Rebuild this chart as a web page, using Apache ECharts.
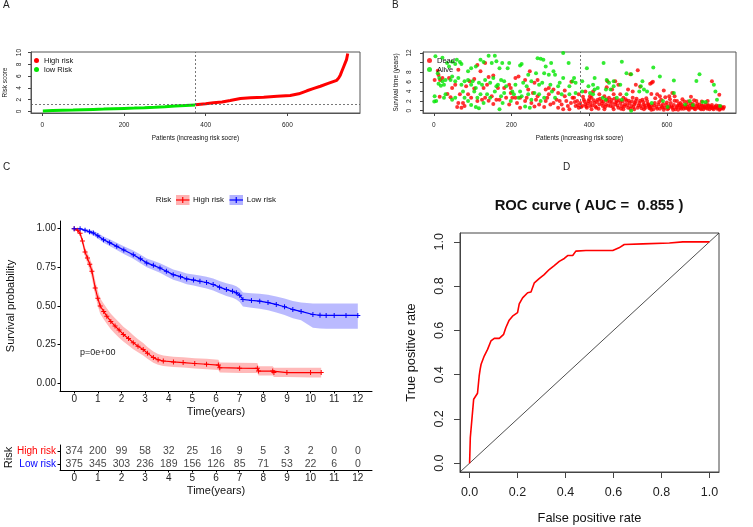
<!DOCTYPE html>
<html><head><meta charset="utf-8">
<script src="https://cdn.jsdelivr.net/npm/echarts@6/dist/echarts.min.js"></script>
<style>html,body{margin:0;padding:0;background:#fff}#c{width:753px;height:527px}</style>
</head><body><div id="c"></div>
<script>
// ---------- Panel A : risk score curve ----------
const lowRiskIdx   = [1, 25, 50, 75, 100, 125, 150, 175, 200, 225, 250, 275, 300, 325, 350, 374];
const lowRiskScore = [0.08, 0.14, 0.19, 0.23, 0.28, 0.33, 0.38, 0.44, 0.5, 0.55, 0.61, 0.68, 0.78, 0.9, 1.0, 1.1];
const highRiskIdx   = [375, 400, 419, 440, 460, 485, 510, 542, 575, 607, 628, 648, 665, 681, 700, 721, 726, 730, 734, 738, 742, 745, 748];
const highRiskScore = [1.12, 1.3, 1.46, 1.6, 1.86, 2.2, 2.3, 2.42, 2.56, 2.7, 2.98, 3.5, 3.9, 4.27, 4.75, 5.28, 5.7, 6.2, 6.9, 7.6, 8.3, 8.8, 9.85];
const riskCutoffScore = 1.13;
const riskCutoffIndex = 374;

// ---------- Panel B : survival status ----------
const alivePoints = [
 [22,11.0],[34,9.9],[39,9.2],[47,10.2],[55,9.7],[59,10.6],[67,10.1],[71,9.7],[141,11.4],[157,11.4],[120,10.6],[128,10.1],[96,8.8],[88,8.2],[108,9.2],[149,9.9],[161,10.3],
 [10,7.8],[14,6.8],[22,6.1],[26,5.4],[30,6.4],[43,6.4],[47,7.1],[55,6.1],[63,6.8],[71,5.4],[79,6.1],[88,6.4],[96,5.4],[100,6.1],[108,4.7],[116,5.8],[124,5.4],[132,6.4],[145,5.8],[153,6.8],[161,5.1],
 [2,3.0],[6,2.0],[26,2.7],[30,3.4],[47,2.3],[55,2.7],[75,4.0],[79,2.7],[88,2.0],[104,4.0],[112,2.7],[120,3.4],[128,1.6],[137,3.4],[145,2.7],[157,4.0],[96,1.2],[108,0.8],[116,0.5],[4,11.3],[1,1.9],[12,5.6],[18,5.2],
 [176,9.9],[194,9.9],[169,8.8],[190,8.8],[222,9.4],[226,9.7],[267,10.9],[275,10.8],[282,10.6],[288,9.2],[302,9.9],[333,12.0],[347,9.9],[284,7.8],[296,7.5],[308,8.2],[312,7.5],[263,7.8],[243,7.5],[324,5.8],[333,6.8],[357,6.1],
 [173,6.4],[181,6.1],[165,5.4],[186,5.1],[210,5.4],[230,5.8],[239,5.1],[251,6.1],[271,5.4],[279,5.8],[300,5.4],[181,3.7],[173,3.0],[202,4.0],[206,3.4],[222,4.0],[226,3.0],[218,2.7],[243,3.4],[251,2.3],[259,3.7],[271,3.4],[284,2.7],[304,4.0],[320,5.1],[329,3.4],[349,5.1],[349,3.4],[169,0.3],[177,1.6],[198,2.0],[235,0.9],[247,0.6],[275,2.0],[312,2.7],
 [394,8.8],[437,9.9],[484,10.2],[361,6.8],[365,5.8],[382,6.1],[414,6.8],[410,5.4],[398,5.1],[422,4.7],[445,6.4],[451,5.8],[463,6.1],[443,4.4],[455,4.4],[463,5.1],[480,5.4],[496,7.8],[508,7.6],[533,5.1],[537,6.1],[529,4.0],[541,4.4],[365,3.7],[382,4.0],[402,3.7],[414,4.4],[435,2.7],[443,2.3],[471,2.7],[484,2.3],[508,0.0],[549,4.0],[410,3.4],[496,3.4],
 [565,9.0],[582,7.1],[618,6.3],[684,7.6],[676,6.2],[721,5.4],[725,4.0],[729,2.3],[618,3.7],[659,2.0],[692,1.8],[700,1.8],[590,2.0],[602,0.8],[561,1.6],[647,1.3],[667,1.2],[737,1.0]
];
const deadPoints = [
 [2,6.4],[16,6.4],[39,6.8],[55,5.4],[83,5.1],[92,6.1],[104,6.6],[112,9.5],[132,9.9],[120,8.2],[141,7.0],[153,7.3],[63,8.5],[43,2.8],[47,4.7],[63,1.6],[67,3.4],[96,2.7],[112,2.0],[124,2.3],[132,2.7],[141,2.1],[149,3.0],[161,2.3],[153,1.4],[79,1.0],[71,0.6],[128,4.7],[137,5.4],[104,4.6],[75,1.6],[10,8.3],[12,7.4],[15,2.9],[60,0.8],[22,6.8],[35,3.5],[88,3.4],
 [210,6.8],[218,7.1],[235,6.4],[247,8.2],[259,5.8],[267,6.4],[194,5.4],[198,4.7],[165,4.7],[181,4.7],[296,4.7],[308,4.4],[320,3.7],[337,4.2],[354,6.0],[198,3.7],[186,2.7],[202,2.7],[214,1.6],[222,0.6],[235,2.0],[239,2.7],[255,3.7],[263,2.3],[267,3.0],[288,2.0],[292,2.7],[300,1.3],[308,1.6],[316,2.3],[324,2.0],[329,1.3],[337,3.0],[341,2.0],[345,1.0],[353,1.6],[357,2.7],[259,0.9],[271,1.3],[284,0.8],[320,0.6],[333,0.3],[349,0.3],[210,2.7],[222,2.7],[243,4.4],[288,4.4],[296,3.4],[169,2.3],[194,1.3],[251,1.6],
 [361,2.7],[369,2.0],[377,1.6],[386,2.3],[390,1.3],[398,2.0],[402,1.0],[406,2.7],[410,4.0],[414,1.6],[418,0.6],[422,2.3],[426,1.3],[431,2.0],[435,1.0],[439,3.0],[443,1.3],[447,2.0],[451,2.7],[455,1.0],[459,1.6],[463,3.4],[467,1.3],[471,2.0],[475,0.6],[480,1.6],[484,1.0],[488,2.7],[492,1.3],[496,2.0],[500,0.6],[504,1.6],[508,1.0],[512,2.7],[516,1.3],[520,2.0],[525,0.6],[529,1.6],[533,1.0],[537,2.3],[541,1.3],[545,0.6],[549,2.0],[553,1.0],
 [365,1.0],[373,0.6],[382,1.0],[394,0.6],[406,0.3],[439,0.3],[463,0.3],[488,0.3],[516,0.3],[541,0.3],[447,6.1],[459,4.4],[467,6.1],[475,5.4],[480,3.4],[500,4.4],[520,5.4],[525,8.4],[506,7.6],[512,4.0],[373,3.4],[390,4.0],[426,3.4],[402,3.0],[445,4.9],[531,5.0],[564,6.0],
 [363,1.8],[371,1.2],[379,0.8],[384,2.9],[388,1.9],[392,0.9],[396,1.5],[400,2.4],[404,1.7],[408,1.1],[412,2.2],[416,0.9],[420,1.8],[424,0.4],[428,2.5],[433,1.5],[437,1.9],[441,0.8],[445,2.4],[449,1.1],[453,1.8],[457,2.3],[461,0.8],[465,2.5],[469,1.7],[473,1.1],[477,2.2],[482,0.4],[486,1.9],[490,0.9],[494,2.4],[498,1.2],[502,2.1],[506,0.4],[510,1.9],[514,0.8],[518,1.6],[522,2.5],[527,1.1],[531,2.1],[535,0.5],[539,1.8],[543,1.0],[547,2.6],[551,1.4],[555,0.5],
 [561,5.8],[557,5.6],[716,6.1],[592,4.2],[614,3.7],[582,3.0],[606,3.0],[676,2.0],[635,1.6],[735,3.3],
 [553,1.3],[557,0.6],[561,1.0],[565,0.3],[569,1.6],[573,0.8],[578,1.3],[582,0.4],[586,1.0],[590,1.4],[594,0.6],[598,1.2],[602,0.3],[606,1.0],[610,1.6],[614,0.6],[618,1.2],[622,0.3],[627,1.0],[631,1.4],[635,0.6],[639,1.2],[643,0.4],[647,0.8],[651,1.3],[655,0.4],[659,1.0],[663,0.6],[667,1.4],[671,0.4],[676,1.0],[680,0.6],[684,1.3],[688,0.3],[692,1.0],[696,0.6],[700,1.3],[704,0.4],[708,1.0],[712,0.6],[716,1.2],[720,0.3],[725,0.8],[729,0.4],[733,1.0],[737,0.3],[741,0.6],[745,0.4],[747,0.8],
 [555,0.9],[560,0.2],[567,1.1],[575,0.4],[580,1.8],[588,0.7],[592,0.2],[600,1.7],[604,0.5],[612,0.9],[616,0.2],[620,2.1],[625,0.7],[629,0.2],[633,1.1],[637,0.4],[641,0.9],[645,1.9],[649,0.5],[653,0.8],[657,0.2],[661,1.5],[665,0.7],[669,0.9],[673,0.3],[678,1.4],[682,0.8],[686,0.5],[690,1.1],[694,0.3],[698,0.8],[702,0.6],[706,1.2],[710,0.3],[714,0.9],[718,0.5],[722,0.7],[727,1.1],[731,0.6],[735,0.2],[739,0.9],[743,0.6],
 [570,2.6],[585,2.3],[596,2.8],[608,2.4],[626,2.0],[640,2.4],[654,1.9],[670,2.2],[690,1.9],[705,2.0],[575,3.4],[560,3.5],[620,3.0],[662,2.9]
];
const survCutoffIndex = 376;

// ---------- Panel C : Kaplan-Meier ----------
const highT  = [0, 0.15, 0.25, 0.35, 0.46, 0.56, 0.66, 0.75, 0.89, 1.0, 1.1, 1.25, 1.38, 1.55, 1.73, 1.9, 2.08, 2.3, 2.5, 2.7, 2.92, 3.1, 3.35, 3.55, 3.77, 4.2, 4.61, 5.1, 5.6, 6.1, 6.16, 7.0, 7.75, 7.8, 8.4, 8.45, 9.0, 10.0, 10.45];
const highS  = [1.0, 0.99, 0.97, 0.92, 0.85, 0.81, 0.77, 0.725, 0.617, 0.55, 0.5, 0.465, 0.434, 0.4, 0.37, 0.345, 0.316, 0.29, 0.263, 0.24, 0.219, 0.195, 0.166, 0.152, 0.144, 0.138, 0.134, 0.128, 0.123, 0.118, 0.101, 0.098, 0.097, 0.079, 0.079, 0.069, 0.069, 0.069, 0.069];
const highLo = [1.0, 0.98, 0.955, 0.895, 0.82, 0.775, 0.73, 0.68, 0.57, 0.5, 0.45, 0.415, 0.385, 0.35, 0.32, 0.295, 0.27, 0.245, 0.22, 0.2, 0.18, 0.158, 0.132, 0.12, 0.112, 0.106, 0.102, 0.096, 0.09, 0.086, 0.07, 0.067, 0.066, 0.05, 0.05, 0.04, 0.04, 0.038, 0.037];
const highHi = [1.0, 1.0, 0.985, 0.945, 0.88, 0.845, 0.81, 0.77, 0.665, 0.6, 0.55, 0.515, 0.485, 0.45, 0.42, 0.395, 0.365, 0.34, 0.31, 0.285, 0.26, 0.235, 0.205, 0.19, 0.18, 0.172, 0.168, 0.162, 0.158, 0.152, 0.135, 0.132, 0.131, 0.11, 0.11, 0.1, 0.1, 0.1, 0.1];
const lowT  = [0, 0.25, 0.46, 0.65, 0.81, 1.0, 1.24, 1.5, 1.8, 2.1, 2.5, 2.8, 3.07, 3.35, 3.63, 3.9, 4.19, 4.5, 4.76, 5.05, 5.32, 5.6, 5.88, 6.15, 6.44, 6.7, 6.86, 7.0, 7.14, 7.5, 7.85, 8.2, 8.55, 8.9, 9.25, 9.6, 10.1, 10.4, 10.66, 11.0, 11.5, 12.0];
const lowS  = [1.0, 1.0, 0.99, 0.98, 0.972, 0.955, 0.929, 0.91, 0.886, 0.862, 0.832, 0.805, 0.779, 0.763, 0.746, 0.725, 0.703, 0.69, 0.675, 0.668, 0.66, 0.652, 0.639, 0.622, 0.606, 0.595, 0.585, 0.57, 0.542, 0.536, 0.531, 0.522, 0.51, 0.495, 0.477, 0.465, 0.445, 0.44, 0.439, 0.439, 0.439, 0.439];
const lowLo = [1.0, 0.995, 0.98, 0.967, 0.957, 0.937, 0.909, 0.888, 0.862, 0.837, 0.805, 0.777, 0.75, 0.733, 0.715, 0.693, 0.67, 0.656, 0.64, 0.632, 0.623, 0.614, 0.6, 0.582, 0.565, 0.553, 0.542, 0.526, 0.496, 0.489, 0.483, 0.472, 0.458, 0.441, 0.421, 0.407, 0.36, 0.355, 0.353, 0.353, 0.353, 0.353];
const lowHi = [1.0, 1.0, 1.0, 0.993, 0.987, 0.973, 0.949, 0.932, 0.91, 0.887, 0.859, 0.833, 0.808, 0.793, 0.777, 0.757, 0.736, 0.724, 0.71, 0.704, 0.697, 0.69, 0.678, 0.662, 0.647, 0.637, 0.628, 0.614, 0.588, 0.583, 0.579, 0.572, 0.562, 0.549, 0.533, 0.523, 0.516, 0.516, 0.516, 0.516, 0.516, 0.516];
const kmTimeTicks = [0,1,2,3,4,5,6,7,8,9,10,11,12];
const kmSurvTicks = [0, 0.25, 0.5, 0.75, 1.0];

// ---------- risk table ----------
const tableTimes = [0,1,2,3,4,5,6,7,8,9,10,11,12];
const highAtRisk = [374,200,99,58,32,25,16,9,5,3,2,0,0];
const lowAtRisk  = [375,345,303,236,189,156,126,85,71,53,22,6,0];
const tableGroups = ['Low risk','High risk'];

// ---------- Panel D : ROC ----------
const rocFPR = [0, 0.003, 0.017, 0.019, 0.033, 0.04, 0.044, 0.048, 0.061, 0.075, 0.089, 0.103, 0.124, 0.142, 0.151, 0.165, 0.179, 0.2, 0.207, 0.221, 0.242, 0.256, 0.27, 0.29, 0.311, 0.332, 0.353, 0.374, 0.395, 0.409, 0.43, 0.443, 0.485, 0.597, 0.623, 0.645, 0.722, 0.833, 0.889, 1.0];
const rocTPR = [0, 0.116, 0.289, 0.29, 0.316, 0.394, 0.424, 0.447, 0.484, 0.514, 0.552, 0.564, 0.564, 0.582, 0.612, 0.646, 0.664, 0.68, 0.72, 0.747, 0.77, 0.773, 0.815, 0.834, 0.852, 0.875, 0.893, 0.912, 0.925, 0.938, 0.938, 0.958, 0.961, 0.961, 0.973, 0.988, 0.991, 0.995, 1.0, 1.0];
const diagX = [-0.04, 1.04];
const rocTicks = [0, 0.2, 0.4, 0.6, 0.8, 1.0];

// ---------- drawing ----------
const F = '"Liberation Sans", Arial, Helvetica, sans-serif';
const RED = '#FF0000', GREEN = '#00E600', BLUE = '#0000FF';
const zip = (a, b) => a.map((v, i) => [v, b[i]]);
const PLUS = 'path://M4,0H6V4H10V6H6V10H4V6H0V4H4Z';

function valAxis(o) {
  const ax = {
    type: 'value', gridIndex: o.g, min: o.min, max: o.max,
    axisLine: { show: true, onZero: false, lineStyle: { color: o.lineColor || '#000', width: 1 } },
    axisTick: { show: true, inside: false, length: o.tickLen || 3, customValues: o.ticks, lineStyle: { color: o.tickColor || '#444', width: 1 } },
    axisLabel: { show: true, customValues: o.labels || o.ticks, margin: o.margin, fontSize: o.fs, color: '#222', fontFamily: F, rotate: o.rotate || 0 },
    splitLine: { show: false },
    name: o.name, nameLocation: 'middle', nameGap: o.nameGap, nameMoveOverlap: false,
    nameTextStyle: { fontSize: o.nfs, color: '#111', fontFamily: F }
  };
  if (o.fmt) ax.axisLabel.formatter = o.fmt;
  if (o.nameRotate) ax.nameRotate = o.nameRotate;
  return ax;
}

function band(xi, T, lo, hi, color) {
  return {
    type: 'custom', xAxisIndex: xi, yAxisIndex: xi, silent: true, z: 1,
    data: [[0, 0]],
    renderItem: function (params, api) {
      const pts = [];
      for (let i = 0; i < T.length; i++) pts.push(api.coord([T[i], hi[i]]));
      for (let i = T.length - 1; i >= 0; i--) pts.push(api.coord([T[i], lo[i]]));
      return { type: 'polygon', shape: { points: pts }, style: { fill: color } };
    }
  };
}

const dash = { type: [2, 2], color: '#555', width: 0.8 };

const option = {
  animation: false,
  backgroundColor: '#fff',
  textStyle: { fontFamily: F },
  title: [
    { text: 'A', left: 3, top: 0, padding: 0, textStyle: { fontSize: 10, fontWeight: 'normal', color: '#222', fontFamily: F } },
    { text: 'B', left: 392, top: 0, padding: 0, textStyle: { fontSize: 10, fontWeight: 'normal', color: '#222', fontFamily: F } },
    { text: 'C', left: 3, top: 162, padding: 0, textStyle: { fontSize: 10, fontWeight: 'normal', color: '#222', fontFamily: F } },
    { text: 'D', left: 563, top: 162, padding: 0, textStyle: { fontSize: 10, fontWeight: 'normal', color: '#222', fontFamily: F } },
    { text: 'ROC curve ( AUC =  0.855 )', left: 589, top: 198, padding: 0, textAlign: 'center', textStyle: { fontSize: 14.8, fontWeight: 'bold', color: '#111', fontFamily: F } }
  ],
  legend: [
    { data: ['High risk', 'low Risk'], left: 34, top: 56, orient: 'vertical', icon: 'circle', itemWidth: 5, itemHeight: 5, itemGap: 0, padding: 0, selectedMode: false, textStyle: { fontSize: 7.5, lineHeight: 9, color: '#111', fontFamily: F } },
    { data: ['Dead', 'Alive'], left: 427, top: 56, orient: 'vertical', icon: 'circle', itemWidth: 5, itemHeight: 5, itemGap: 0, padding: 0, selectedMode: false, textStyle: { fontSize: 7.5, lineHeight: 9, color: '#111', fontFamily: F } }
  ],
  grid: [
    { left: 31, top: 52, width: 329, height: 61, show: true, borderColor: '#555', borderWidth: 1, backgroundColor: 'transparent', outerBoundsMode: 'none' },
    { left: 423, top: 52, width: 313, height: 61, show: true, borderColor: '#555', borderWidth: 1, backgroundColor: 'transparent', outerBoundsMode: 'none' },
    { left: 60, top: 221, width: 312, height: 170, outerBoundsMode: 'none' },
    { left: 60, top: 445, width: 312, height: 25, outerBoundsMode: 'none' },
    { left: 460, top: 233, width: 259, height: 239, show: true, borderColor: '#444', borderWidth: 1, backgroundColor: 'transparent', outerBoundsMode: 'none' }
  ],
  xAxis: [
    valAxis({ g: 0, min: -28, max: 778, ticks: [0, 200, 400, 600], margin: 9, fs: 6.5, lineColor: '#555', name: 'Patients (increasing risk socre)', nameGap: 22.5, nfs: 6.4 }),
    valAxis({ g: 1, min: -28, max: 778, ticks: [0, 200, 400, 600], margin: 9, fs: 6.5, lineColor: '#555', name: 'Patients (increasing risk socre)', nameGap: 22.5, nfs: 6.4 }),
    valAxis({ g: 2, min: -0.6, max: 12.6, ticks: kmTimeTicks, margin: 3.5, fs: 10, tickLen: 2.5, tickColor: '#000', name: 'Time(years)', nameGap: 15, nfs: 11 }),
    valAxis({ g: 3, min: -0.6, max: 12.6, ticks: kmTimeTicks, margin: 3.5, fs: 10, tickLen: 2.5, tickColor: '#000', name: 'Time(years)', nameGap: 15, nfs: 11 }),
    valAxis({ g: 4, min: -0.04, max: 1.04, ticks: rocTicks, margin: 14, fs: 12.5, tickLen: 6, lineColor: '#444', fmt: v => v.toFixed(1), name: 'False positive rate', nameGap: 40, nfs: 12.8 })
  ],
  yAxis: [
    valAxis({ g: 0, min: -0.28, max: 10.1, ticks: [0, 2, 4, 6, 8, 10], margin: 8, fs: 6.5, rotate: 90, lineColor: '#555', name: 'Risk score', nameGap: 23, nfs: 6.4, nameRotate: 90 }),
    valAxis({ g: 1, min: -0.47, max: 12.2, ticks: [0, 2, 4, 6, 8, 10, 12], labels: [0, 2, 4, 6, 8, 12], margin: 10, fs: 6.5, rotate: 90, lineColor: '#555', name: 'Survival time (years)', nameGap: 24, nfs: 6.4, nameRotate: 90 }),
    valAxis({ g: 2, min: -0.05, max: 1.05, ticks: kmSurvTicks, margin: 4, fs: 10, tickLen: 2.5, tickColor: '#000', fmt: v => v.toFixed(2), name: 'Survival probability', nameGap: 44, nfs: 11, nameRotate: 90 }),
    {
      type: 'category', gridIndex: 3, data: tableGroups,
      axisLine: { show: true, onZero: false, lineStyle: { color: '#000', width: 1 } },
      axisTick: { show: true, alignWithLabel: true, interval: 0, length: 2.5, lineStyle: { color: '#000' } },
      axisLabel: { interval: 0, margin: 4, fontSize: 10, fontFamily: F, color: v => (v === 'High risk' ? RED : BLUE) },
      name: 'Risk', nameLocation: 'middle', nameGap: 46, nameRotate: 90, nameMoveOverlap: false,
      nameTextStyle: { fontSize: 11, color: '#111', fontFamily: F }
    },
    valAxis({ g: 4, min: -0.04, max: 1.04, ticks: rocTicks, margin: 14, fs: 12.5, tickLen: 6, rotate: 90, lineColor: '#444', fmt: v => v.toFixed(1), name: 'True positive rate', nameGap: 42, nfs: 12.8, nameRotate: 90 })
  ],
  series: [
    { name: 'low Risk', type: 'line', xAxisIndex: 0, yAxisIndex: 0, data: zip(lowRiskIdx, lowRiskScore), showSymbol: false, lineStyle: { color: GREEN, width: 3 }, itemStyle: { color: GREEN },
      markLine: { silent: true, symbol: 'none', label: { show: false }, lineStyle: dash, data: [{ xAxis: riskCutoffIndex }, { yAxis: riskCutoffScore }] } },
    { name: 'High risk', type: 'line', xAxisIndex: 0, yAxisIndex: 0, data: zip(highRiskIdx, highRiskScore), showSymbol: false, lineStyle: { color: RED, width: 3 }, itemStyle: { color: RED } },

    { name: 'Dead', type: 'scatter', xAxisIndex: 1, yAxisIndex: 1, data: deadPoints, symbolSize: 4, itemStyle: { color: RED },
      markLine: { silent: true, symbol: 'none', label: { show: false }, lineStyle: dash, data: [{ xAxis: survCutoffIndex }] } },
    { name: 'Alive', type: 'scatter', xAxisIndex: 1, yAxisIndex: 1, data: alivePoints, symbolSize: 4, itemStyle: { color: GREEN } },

    band(2, highT, highLo, highHi, 'rgba(255,0,0,0.27)'),
    band(2, lowT, lowLo, lowHi, 'rgba(0,0,255,0.27)'),
    { name: 'High risk', type: 'line', xAxisIndex: 2, yAxisIndex: 2, data: zip(highT, highS), symbol: PLUS, symbolSize: 5, showSymbol: true, lineStyle: { color: RED, width: 1.2 }, itemStyle: { color: RED } },
    { name: 'Low risk', type: 'line', xAxisIndex: 2, yAxisIndex: 2, data: zip(lowT, lowS), symbol: PLUS, symbolSize: 5, showSymbol: true, lineStyle: { color: BLUE, width: 1.2 }, itemStyle: { color: BLUE } },

    { name: 'tblHigh', type: 'scatter', xAxisIndex: 3, yAxisIndex: 3, data: tableTimes.map((t, i) => [t, 'High risk', highAtRisk[i]]), symbolSize: 1, itemStyle: { color: 'rgba(0,0,0,0)' },
      label: { show: true, position: 'inside', formatter: p => String(p.value[2]), fontSize: 10.5, color: '#111', fontFamily: F } },
    { name: 'tblLow', type: 'scatter', xAxisIndex: 3, yAxisIndex: 3, data: tableTimes.map((t, i) => [t, 'Low risk', lowAtRisk[i]]), symbolSize: 1, itemStyle: { color: 'rgba(0,0,0,0)' },
      label: { show: true, position: 'inside', formatter: p => String(p.value[2]), fontSize: 10.5, color: '#111', fontFamily: F } },

    { name: 'diag', type: 'line', xAxisIndex: 4, yAxisIndex: 4, data: zip(diagX, diagX), showSymbol: false, lineStyle: { color: '#222', width: 0.8 } },
    { name: 'ROC', type: 'line', xAxisIndex: 4, yAxisIndex: 4, data: zip(rocFPR, rocTPR), showSymbol: false, lineStyle: { color: RED, width: 1.6 } }
  ],
  graphic: [
    { type: 'text', x: 155.7, y: 200, style: { text: 'Risk', fontSize: 8, fontFamily: F, fill: '#111', verticalAlign: 'middle' } },
    { type: 'rect', shape: { x: 176, y: 195, width: 13.5, height: 10 }, style: { fill: 'rgba(255,0,0,0.3)' } },
    { type: 'line', shape: { x1: 176, y1: 200, x2: 189.5, y2: 200 }, style: { stroke: RED, lineWidth: 1.2 } },
    { type: 'line', shape: { x1: 182.75, y1: 197, x2: 182.75, y2: 203 }, style: { stroke: RED, lineWidth: 1.2 } },
    { type: 'text', x: 193, y: 200, style: { text: 'High risk', fontSize: 8, fontFamily: F, fill: '#111', verticalAlign: 'middle' } },
    { type: 'rect', shape: { x: 229.5, y: 195, width: 13.5, height: 10 }, style: { fill: 'rgba(0,0,255,0.3)' } },
    { type: 'line', shape: { x1: 229.5, y1: 200, x2: 243, y2: 200 }, style: { stroke: BLUE, lineWidth: 1.2 } },
    { type: 'line', shape: { x1: 236.25, y1: 197, x2: 236.25, y2: 203 }, style: { stroke: BLUE, lineWidth: 1.2 } },
    { type: 'text', x: 246.7, y: 200, style: { text: 'Low risk', fontSize: 8, fontFamily: F, fill: '#111', verticalAlign: 'middle' } },
    { type: 'text', x: 80, y: 353, style: { text: 'p=0e+00', fontSize: 9, fontFamily: F, fill: '#222', verticalAlign: 'middle' } }
  ]
};

const chart = echarts.init(document.getElementById('c'), null, { renderer: 'canvas' });
chart.setOption(option);
</script></body></html>
